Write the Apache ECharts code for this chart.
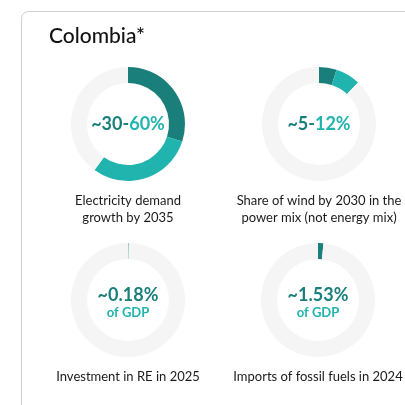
<!DOCTYPE html>
<html>
<head>
<meta charset="utf-8">
<script src="https://cdn.jsdelivr.net/npm/echarts@6/dist/echarts.min.js"></script>
<style>
  html, body { margin: 0; padding: 0; background: #ffffff; }
  #chart { width: 405px; height: 405px; }
</style>
</head>
<body>
<div id="chart"></div>
<script>
// Country headline figures, each shown as a donut out of 100 %.
const countryTitle = 'Colombia*';
const indicatorLabels = [
  'Electricity demand\ngrowth by 2035',
  'Share of wind by 2030 in the\npower mix (not energy mix)',
  'Investment in RE in 2025',
  'Imports of fossil fuels in 2024'
];
// Lower bound (or single value) and upper bound of each figure, in %.
const lowValues = [30, 5, 0.18, 1.53];
const highValues = [60, 12, null, null];
const unitLabels = ['', '', 'of GDP', 'of GDP'];
const ringTotal = 100;

// Layout
const FONT = 'Lato, "Noto Sans", sans-serif';
const DARK = '#1a7f7b';
const LIGHT = '#21b4af';
const TRACK = '#f5f5f5';
const centers = [[128, 124], [319, 124], [128, 300], [318, 300]];
const captionY = [209.5, 209.5, 377, 377];

const chart = echarts.init(document.getElementById('chart'), null, { renderer: 'canvas' });

const series = lowValues.map((low, i) => {
  const high = highValues[i];
  const top = high == null ? low : high;
  return {
    type: 'pie',
    center: centers[i],
    radius: [41, 57],
    startAngle: 90,
    clockwise: true,
    minAngle: 0,
    avoidLabelOverlap: false,
    silent: true,
    animation: false,
    label: { show: false },
    labelLine: { show: false },
    itemStyle: { borderWidth: 0 },
    emphasis: { disabled: true },
    data: [
      { value: low, itemStyle: { color: DARK } },
      { value: high == null ? 0 : high - low, itemStyle: { color: LIGHT } },
      { value: ringTotal - top, itemStyle: { color: TRACK } }
    ]
  };
});

const graphics = [
  {
    type: 'rect',
    shape: { x: 21.5, y: 11.5, width: 460, height: 460, r: 7 },
    style: { fill: '#ffffff', stroke: '#cfcfcf', lineWidth: 1 },
    z: -10, silent: true
  },
  {
    type: 'text',
    style: {
      x: 49, y: 36, text: countryTitle, fill: '#111111',
      font: '500 21px ' + FONT, align: 'left', verticalAlign: 'middle'
    }
  }
];

lowValues.forEach((low, i) => {
  const [cx, cy] = centers[i];
  const high = highValues[i];
  const rich = {
    d: { fill: DARK, font: 'bold 18px ' + FONT },
    l: { fill: LIGHT, font: 'bold 18px ' + FONT }
  };
  if (high != null) {
    graphics.push({
      type: 'text',
      style: {
        x: cx, y: cy, align: 'center', verticalAlign: 'middle',
        text: '{d|~' + low + '-}{l|' + high + '%}', rich: rich
      }
    });
  } else {
    graphics.push({
      type: 'text',
      style: {
        x: cx, y: cy - 5, align: 'center', verticalAlign: 'middle',
        text: '~' + low + '%', fill: DARK, font: 'bold 18px ' + FONT
      }
    });
    graphics.push({
      type: 'text',
      style: {
        x: cx, y: cy + 13, align: 'center', verticalAlign: 'middle',
        text: unitLabels[i], fill: LIGHT, font: 'bold 13px ' + FONT
      }
    });
  }
  graphics.push({
    type: 'text',
    style: {
      x: cx, y: captionY[i], align: 'center', verticalAlign: 'middle',
      text: indicatorLabels[i], fill: '#1a1a1a', font: '13px ' + FONT,
      lineHeight: 17
    }
  });
});

chart.setOption({
  backgroundColor: '#ffffff',
  animation: false,
  series: series,
  graphic: graphics
});
</script>
</body>
</html>
